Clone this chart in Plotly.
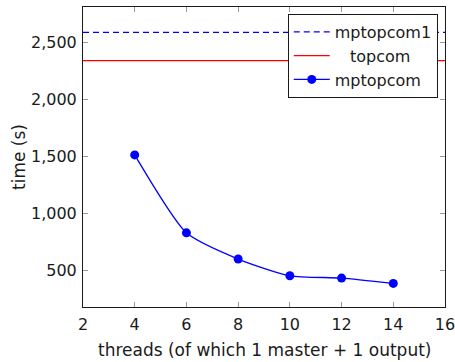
import plotly.graph_objects as go

threads = [4, 6, 8, 10, 12, 14]
mptopcom = [1517, 833, 603, 456, 436, 389]
mptopcom1_time = 2593
topcom_time = 2345
x_span = [2, 16]
x_ticks = [2, 4, 6, 8, 10, 12, 14, 16]
y_ticks = [500, 1000, 1500, 2000, 2500]
y_tick_labels = ["500", "1,000", "1,500", "2,000", "2,500"]
x_title = "threads (of which 1 master + 1 output)"
y_title = "time (s)"

FONT = "DejaVu Sans"
FS = 16
TFS = 17
INK = "#1a1a1a"

fig = go.Figure()
fig.add_trace(go.Scatter(
    x=x_span, y=[mptopcom1_time] * 2, mode="lines", name="mptopcom1",
    line=dict(color="#0000ff", width=1.3, dash="6px,4px"),
))
fig.add_trace(go.Scatter(
    x=x_span, y=[topcom_time] * 2, mode="lines", name="&nbsp;&nbsp;&nbsp;topcom",
    line=dict(color="#ff0000", width=1.3),
))
fig.add_trace(go.Scatter(
    x=threads, y=mptopcom, mode="lines+markers", name="mptopcom",
    line=dict(color="#0000ff", width=1.3, shape="spline", smoothing=0.6),
    marker=dict(color="#0000ff", size=9),
))

axis_common = dict(
    showgrid=False, zeroline=False, showline=True, linecolor=INK,
    linewidth=1, mirror="allticks", ticks="inside", ticklen=5,
    tickcolor="#999", tickwidth=1, automargin=False,
    ticklabeloverflow="allow",
    tickfont=dict(family=FONT, size=FS, color=INK),
)
fig.update_xaxes(range=x_span, tickvals=x_ticks, ticklabelstandoff=3,
                 **axis_common)
fig.update_yaxes(range=[182, 2815], tickvals=y_ticks, ticktext=y_tick_labels,
                 ticklabelstandoff=2, **axis_common)

fig.add_annotation(text=x_title, xref="paper", yref="paper", x=0.5, y=0,
                   xanchor="center", yanchor="middle", yshift=-43,
                   showarrow=False, font=dict(family=FONT, size=TFS, color=INK))
fig.add_annotation(text=y_title, xref="paper", yref="paper", x=0, y=0.5,
                   xanchor="center", yanchor="middle", xshift=-64, textangle=-90,
                   showarrow=False, font=dict(family=FONT, size=TFS, color=INK))

fig.update_layout(
    width=455, height=362,
    margin=dict(l=83, r=10, t=7, b=55),
    plot_bgcolor="white", paper_bgcolor="white",
    showlegend=True,
    legend=dict(x=0.98, y=0.977, xanchor="right", yanchor="top",
                bgcolor="white", bordercolor=INK, borderwidth=1,
                font=dict(family=FONT, size=FS, color=INK),
                tracegroupgap=0, itemwidth=36),
)
fig.write_html("out.html", config={"displayModeBar": False},
               post_script="document.body.style.margin='0';")
